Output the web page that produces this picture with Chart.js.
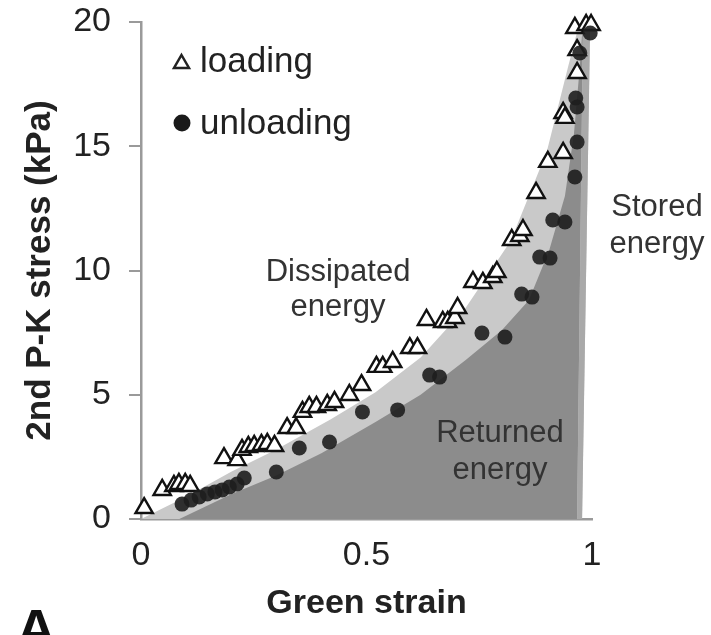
<!DOCTYPE html>
<html>
<head>
<meta charset="utf-8">
<script src="https://cdn.jsdelivr.net/npm/chart.js@4.4.1/dist/chart.umd.min.js"></script>
<style>
  html, body { margin: 0; padding: 0; background: #ffffff; }
  #wrap { width: 711px; height: 635px; }
</style>
</head>
<body>
<div id="wrap"><canvas id="c" width="711" height="635"></canvas></div>
<script>
// ---- data ----
const loadingStrain = [0.007, 0.047, 0.073, 0.084, 0.098, 0.109, 0.184, 0.213, 0.224, 0.238, 0.251, 0.267, 0.280, 0.296,
  0.324, 0.344, 0.358, 0.373, 0.389, 0.413, 0.429, 0.462, 0.489, 0.522, 0.536, 0.558, 0.596, 0.613,
  0.633, 0.669, 0.680, 0.696, 0.702, 0.736, 0.758, 0.780, 0.789, 0.822, 0.840, 0.847, 0.876, 0.902,
  0.936, 0.936, 0.940, 0.967, 0.967, 0.962, 0.987, 0.998];
const loadingStress = [0.44, 1.17, 1.33, 1.41, 1.41, 1.33, 2.45, 2.37, 2.78, 2.90, 2.94, 2.98, 3.02, 2.94,
  3.66, 3.66, 4.31, 4.51, 4.51, 4.59, 4.71, 4.99, 5.39, 6.12, 6.12, 6.32, 6.88, 6.88,
  8.01, 7.93, 7.93, 8.09, 8.49, 9.54, 9.50, 9.74, 9.94, 11.23, 11.39, 11.63, 13.12, 14.37,
  14.73, 16.34, 16.14, 17.95, 18.87, 19.76, 19.88, 19.88];

const unloadingStrain = [0.091, 0.111, 0.129, 0.147, 0.164, 0.180, 0.196, 0.213, 0.229, 0.300, 0.351, 0.418,
  0.491, 0.569, 0.640, 0.662, 0.756, 0.807, 0.844, 0.867, 0.884, 0.907, 0.913, 0.940, 0.962, 0.967,
  0.964, 0.967, 0.973, 0.996];
const unloadingStress = [0.60, 0.76, 0.89, 1.01, 1.09, 1.17, 1.29, 1.41, 1.65, 1.89, 2.86, 3.10,
  4.31, 4.39, 5.79, 5.71, 7.48, 7.32, 9.05, 8.93, 10.54, 10.50, 12.03, 11.95, 13.76, 15.17,
  16.94, 16.58, 18.75, 19.56];

// shaded areas (outline points)
const dissipatedStrain = [0, 0.10, 0.20, 0.30, 0.42, 0.52, 0.62, 0.72, 0.82, 0.90, 0.947, 0.967, 0.985, 0.996, 0.978];
const dissipatedStress = [0, 0.9, 1.9, 2.8, 4.0, 5.1, 6.5, 8.5, 11.2, 14.8, 18.2, 19.6, 20, 20, 0];
const returnedStrain = [0.085, 0.20, 0.30, 0.40, 0.52, 0.62, 0.72, 0.80, 0.86, 0.905, 0.94, 0.96, 0.972, 0.980, 0.967];
const returnedStress = [0, 1.0, 1.75, 2.65, 3.9, 5.0, 6.4, 7.6, 8.8, 10.8, 13.0, 15.5, 18.0, 20, 0];
const storedStrain = [0.967, 0.980, 0.996, 0.978];
const storedStress = [0, 20, 20, 0];

const xTicks = [0, 0.5, 1];
const yTicks = [0, 5, 10, 15, 20];

const legendLabels = ['loading', 'unloading'];
const areaLabels = [['Dissipated', 'energy'], ['Returned', 'energy'], ['Stored', 'energy']];
const xTitle = 'Green strain';
const yTitle = '2nd P-K stress (kPa)';
const panelLabel = 'A';

const pts = (xs, ys) => xs.map((x, i) => ({x: x, y: ys[i]}));

const FONT = '"Liberation Sans", Arial, sans-serif';

const textPlugin = {
  id: 'texts',
  afterDraw(chart) {
    const ctx = chart.ctx;
    ctx.save();
    // legend
    ctx.fillStyle = '#222';
    ctx.font = '35px ' + FONT;
    ctx.textAlign = 'left';
    ctx.textBaseline = 'middle';
    ctx.fillText(legendLabels[0], 200, 62);
    ctx.fillText(legendLabels[1], 200, 124);
    // legend markers
    ctx.strokeStyle = '#222';
    ctx.lineWidth = 2.5;
    ctx.lineJoin = 'miter';
    ctx.beginPath();
    ctx.moveTo(181.5, 55); ctx.lineTo(189, 68); ctx.lineTo(174, 68); ctx.closePath();
    ctx.stroke();
    ctx.fillStyle = '#1a1a1a';
    ctx.beginPath();
    ctx.arc(182, 123, 8.5, 0, Math.PI * 2);
    ctx.fill();
    // area labels
    ctx.fillStyle = '#333';
    ctx.font = '31px ' + FONT;
    ctx.textAlign = 'center';
    const pos = [[338, 272, 307], [500, 433, 470], [657, 207, 244]];
    areaLabels.forEach((l, i) => {
      ctx.fillText(l[0], pos[i][0], pos[i][1]);
      ctx.fillText(l[1], pos[i][0], pos[i][2]);
    });
    // panel label
    ctx.fillStyle = '#111';
    ctx.font = 'bold 56px ' + FONT;
    ctx.textAlign = 'left';
    ctx.textBaseline = 'alphabetic';
    ctx.fillText(panelLabel, 16, 648);
    ctx.restore();
  }
};

new Chart(document.getElementById('c'), {
  type: 'scatter',
  data: {
    datasets: [
      {
        label: 'unloading', data: pts(unloadingStrain, unloadingStress), order: 0,
        pointStyle: 'circle', pointRadius: 7.5, pointBackgroundColor: 'rgba(30,30,30,0.9)',
        pointBorderWidth: 0, clip: false
      },
      {
        label: 'loading', data: pts(loadingStrain, loadingStress), order: 1,
        pointStyle: 'triangle', pointRadius: 10, pointBackgroundColor: '#ffffff',
        pointBorderColor: '#111', pointBorderWidth: 2.4, clip: false
      },
      {
        type: 'line', label: 'stored', data: pts(storedStrain, storedStress), order: 2,
        showLine: true, fill: 'shape', backgroundColor: '#a9a9a9', borderWidth: 0, pointRadius: 0, tension: 0
      },
      {
        type: 'line', label: 'returned', data: pts(returnedStrain, returnedStress), order: 3,
        showLine: true, fill: 'shape', backgroundColor: '#8c8c8c', borderWidth: 0, pointRadius: 0, tension: 0
      },
      {
        type: 'line', label: 'dissipated', data: pts(dissipatedStrain, dissipatedStress), order: 4,
        showLine: true, fill: 'shape', backgroundColor: '#c9c9c9', borderWidth: 0, pointRadius: 0, tension: 0
      }
    ]
  },
  options: {
    responsive: false,
    animation: false,
    devicePixelRatio: 1,
    layout: { padding: { left: 0, right: 119, top: 22, bottom: 0 } },
    plugins: { legend: { display: false }, tooltip: { enabled: false } },
    scales: {
      x: {
        type: 'linear', min: 0, max: 1,
        afterFit: (s) => { s.height = 116; s.paddingLeft = 0; s.paddingRight = 0; },
        afterBuildTicks: (s) => { s.ticks = xTicks.map(v => ({value: v})); },
        grid: { display: false },
        border: { display: true, color: '#9a9a9a', width: 2.5 },
        ticks: {
          color: '#222', font: { family: FONT, size: 34 }, padding: 8, maxRotation: 0,
          callback: (v) => String(v)
        },
        title: {
          display: true, text: xTitle, color: '#222',
          font: { family: FONT, size: 34, weight: 'bold' }, padding: { top: 0, bottom: 11 }
        }
      },
      y: {
        type: 'linear', min: 0, max: 20,
        afterFit: (s) => { s.width = 141; s.paddingTop = 0; s.paddingBottom = 0; },
        afterBuildTicks: (s) => { s.ticks = yTicks.map(v => ({value: v})); },
        grid: { display: true, drawOnChartArea: false, drawTicks: true, tickLength: 12, color: '#9a9a9a', lineWidth: 2 },
        border: { display: true, color: '#9a9a9a', width: 2.5 },
        ticks: { color: '#222', font: { family: FONT, size: 34 }, padding: 18, callback: (v) => String(v) },
        title: {
          display: true, text: yTitle, color: '#222',
          font: { family: FONT, size: 35, weight: 'bold' }, padding: { top: 19, bottom: 0 }
        }
      }
    }
  },
  plugins: [textPlugin]
});
</script>
</body>
</html>
